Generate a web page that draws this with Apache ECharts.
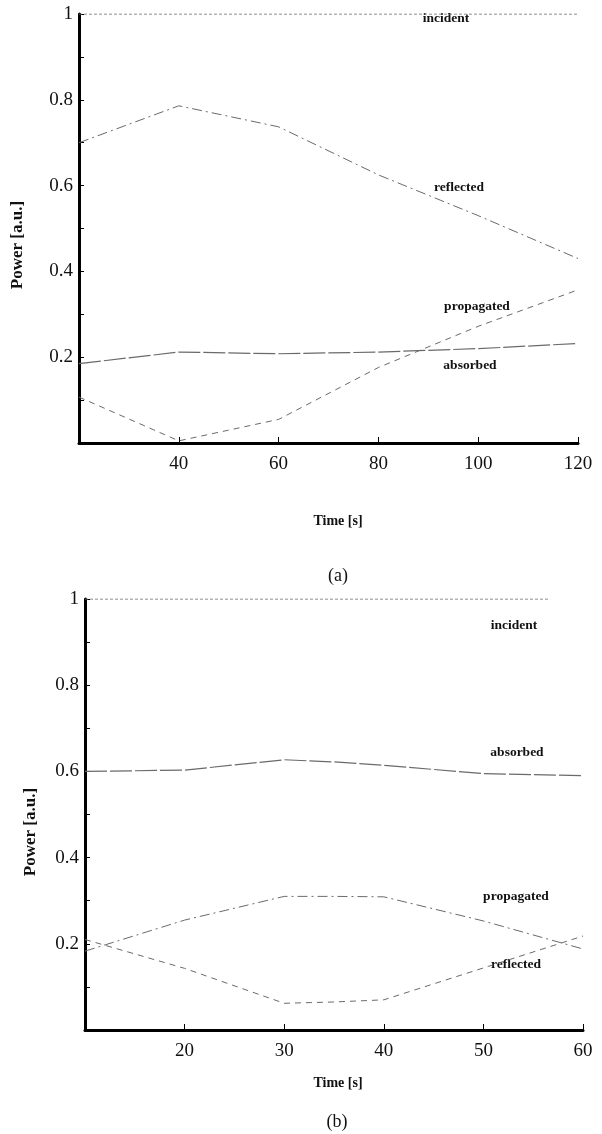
<!DOCTYPE html>
<html>
<head>
<meta charset="utf-8">
<script src="https://cdn.jsdelivr.net/npm/echarts@6/dist/echarts.min.js"></script>
<style>
html,body{margin:0;padding:0;background:#fff;}
#c{width:602px;height:1134px;}
</style>
</head>
<body>
<div id="c"></div>
<script>
// ---- Panel (a) data ----
const timeA = [20, 40, 60, 80, 100, 120];
const incidentA = [1.0, 1.0, 1.0, 1.0, 1.0, 1.0];
const reflectedA = [0.70, 0.786, 0.737, 0.625, 0.53, 0.43];
const propagatedA = [0.107, 0.005, 0.055, 0.176, 0.272, 0.357];
const absorbedA = [0.185, 0.212, 0.208, 0.212, 0.22, 0.232];
const xTicksA = [40, 60, 80, 100, 120];

// ---- Panel (b) data ----
const timeB = [10, 20, 30, 35, 40, 50, 60];
const incidentBx = [10, 20, 30, 40, 50, 56.7];
const incidentB = [1.0, 1.0, 1.0, 1.0, 1.0, 1.0];
const absorbedB = [0.60, 0.603, 0.627, 0.622, 0.614, 0.595, 0.59];
const propagatedB = [0.183, 0.255, 0.31, 0.31, 0.309, 0.253, 0.188];
const reflectedB = [0.21, 0.143, 0.062, 0.065, 0.07, 0.144, 0.218];
const xTicksB = [20, 30, 40, 50, 60];

const yTickLabels = ['0.2', '0.4', '0.6', '0.8', '1'];

function pairs(xs, ys) { return xs.map((x, i) => [x, ys[i]]); }

const serif = "'Liberation Serif', 'DejaVu Serif', serif";
const grey = '#6a6a6a';

function xAxisFor(gi, min, max, interval, ticks) {
  return {
    type: 'value', gridIndex: gi, min: min, max: max, interval: interval,
    axisLine: { show: true, lineStyle: { color: '#000', width: 3 } },
    axisTick: { show: true, inside: true, length: 6, lineStyle: { color: '#000', width: 1 } },
    axisLabel: {
      margin: 12, color: '#111', fontFamily: serif, fontSize: 19,
      formatter: v => ticks.indexOf(Math.round(v)) >= 0 ? String(Math.round(v)) : ''
    },
    splitLine: { show: false }
  };
}
function yAxisFor(gi) {
  return {
    type: 'value', gridIndex: gi, min: 0, max: 1, interval: 0.1,
    axisLine: { show: true, lineStyle: { color: '#000', width: 3 } },
    axisTick: { show: true, inside: true, length: 5, lineStyle: { color: '#000', width: 1 } },
    axisLabel: {
      margin: 6, color: '#111', fontFamily: serif, fontSize: 19,
      formatter: v => {
        const s = String(+v.toFixed(1));
        return yTickLabels.indexOf(s) >= 0 ? s : '';
      }
    },
    splitLine: { show: false }
  };
}

function line(name, gi, data, dash, width) {
  return {
    name: name, type: 'line', xAxisIndex: gi, yAxisIndex: gi,
    data: data, symbol: 'none', smooth: false, animation: false,
    lineStyle: { color: grey, width: width || 1, type: dash }
  };
}

function txt(x, y, s, size, bold, rotate) {
  return {
    type: 'text', x: x, y: y, rotation: rotate || 0,
    style: {
      text: s, fill: '#111', font: (bold ? 'bold ' : '') + size + 'px ' + serif,
      textAlign: 'center', textVerticalAlign: 'middle'
    }
  };
}

const dotted = [3, 2];
const dashDot = [10, 4, 2, 4];
const longDash = [22, 3];
const dashed = [6, 5];

const chart = echarts.init(document.getElementById('c'));
chart.setOption({
  animation: false,
  backgroundColor: '#fff',
  grid: [
    { left: 79, right: 24, top: 14, height: 429 },
    { left: 85, right: 19, top: 599, height: 431 }
  ],
  xAxis: [xAxisFor(0, 20, 120, 20, xTicksA), xAxisFor(1, 10, 60, 10, xTicksB)],
  yAxis: [yAxisFor(0), yAxisFor(1)],
  series: [
    line('incident', 0, pairs(timeA, incidentA), dotted),
    line('reflected', 0, pairs(timeA, reflectedA), dashDot),
    line('propagated', 0, pairs(timeA, propagatedA), dashed),
    line('absorbed', 0, pairs(timeA, absorbedA), longDash, 1.2),
    line('incident', 1, pairs(incidentBx, incidentB), dotted),
    line('absorbed', 1, pairs(timeB, absorbedB), longDash, 1.2),
    line('propagated', 1, pairs(timeB, propagatedB), dashDot),
    line('reflected', 1, pairs(timeB, reflectedB), dashed)
  ],
  graphic: [
    txt(446, 19, 'incident', 13.5, true),
    txt(459, 188, 'reflected', 13.5, true),
    txt(477, 307, 'propagated', 13.5, true),
    txt(470, 366, 'absorbed', 13.5, true),
    txt(18, 245, 'Power [a.u.]', 17, true, Math.PI / 2),
    txt(338, 521, 'Time [s]', 14, true),
    txt(338, 576, '(a)', 18, false),
    txt(514, 626, 'incident', 13.5, true),
    txt(517, 753, 'absorbed', 13.5, true),
    txt(516, 897, 'propagated', 13.5, true),
    txt(516, 965, 'reflected', 13.5, true),
    txt(31, 832, 'Power [a.u.]', 17, true, Math.PI / 2),
    txt(338, 1083, 'Time [s]', 14, true),
    txt(337, 1122, '(b)', 18, false)
  ]
});
</script>
</body>
</html>
